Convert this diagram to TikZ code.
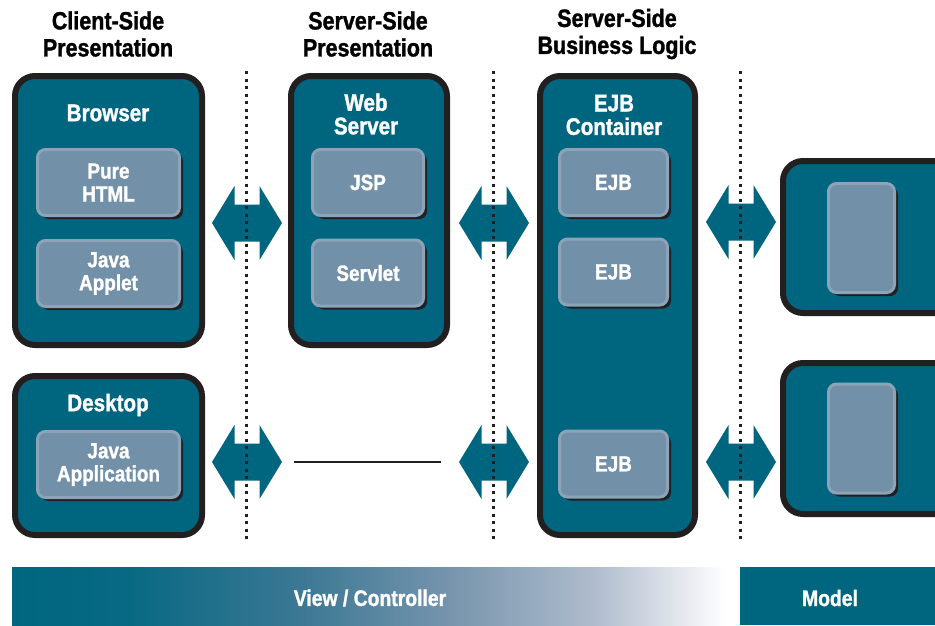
\documentclass[tikz,border=0pt]{standalone}
\usepackage{fontspec}
\setmainfont{Liberation Sans}[FakeStretch=0.86, BoldFeatures={FakeBold=1.3}]
\usetikzlibrary{shadows}
\definecolor{tealc}{RGB}{0,102,128}
\definecolor{innerc}{RGB}{114,144,168}
\definecolor{innerb}{RGB}{140,163,184}
\definecolor{darkc}{RGB}{35,31,32}
\definecolor{gA}{RGB}{8,105,131}
\definecolor{gB}{RGB}{60,120,148}
\definecolor{gC}{RGB}{118,148,172}
\definecolor{gD}{RGB}{175,188,205}
\definecolor{gE}{RGB}{228,232,238}
\pgfdeclarehorizontalshading{vcshade}{100bp}{color(0bp)=(tealc); color(25bp)=(tealc); color(33bp)=(gA); color(45bp)=(gB); color(55bp)=(gC); color(65bp)=(gD); color(71bp)=(gE); color(74bp)=(white); color(100bp)=(white)}
\tikzset{
  outerbox/.style={draw=darkc, line width=6pt, fill=tealc, rounded corners=20pt, inner sep=0pt},
  innerbox/.style={draw=innerb, line width=3pt, fill=innerc, rounded corners=8pt, inner sep=0pt,
     drop shadow={shadow xshift=3.5pt, shadow yshift=-3.5pt, opacity=1, fill=darkc}},
  head/.style={font=\bfseries\fontsize{25}{27}\selectfont, text=black, align=center, inner sep=0pt},
  boxlabel/.style={font=\bfseries\fontsize{24}{23.5}\selectfont, text=white, align=center, inner sep=0pt},
  inlabel/.style={font=\bfseries\fontsize{22}{23}\selectfont, text=white, align=center, inner sep=0pt},
  barlabel/.style={font=\bfseries\fontsize{22.5}{24}\selectfont, text=white, inner sep=0pt},
  sep/.style={draw=darkc, line width=3pt, dash pattern=on 3pt off 4.5pt},
  dbl/.pic={\fill[tealc] (-35,0) -- (-12.5,-37) -- (-12.5,-18.5) -- (12.5,-18.5) -- (12.5,-37) -- (35,0)
      -- (12.5,37) -- (12.5,18.5) -- (-12.5,18.5) -- (-12.5,37) -- cycle;}
}
\begin{document}
\begin{tikzpicture}[x=1pt,y=-1pt]
\useasboundingbox (0,0) rectangle (935,625);
\clip (0,0) rectangle (935,625);
% headers
\node[head] (h1) at (108,34) {Client-Side\\Presentation};
\node[head] (h2) at (368,34) {Server-Side\\Presentation};
\node[head] (h3) at (617,34) {Server-Side\\Business Logic};
% outer boxes
\node[outerbox, minimum width=187pt, minimum height=269pt] (browser) at (108.5,210.5) {};
\node[outerbox, minimum width=187pt, minimum height=159pt] (desktop) at (108.5,455.5) {};
\node[outerbox, minimum width=156pt, minimum height=269pt] (web) at (369,210.5) {};
\node[outerbox, minimum width=155pt, minimum height=459pt] (ejbc) at (617.5,305.5) {};
\node[outerbox, minimum width=207pt, minimum height=152pt] (m1) at (886.5,237) {};
\node[outerbox, minimum width=207pt, minimum height=151pt] (m2) at (886.5,438.5) {};
% box labels
\node[boxlabel] (lbrowser) at (108,113) {Browser};
\node[boxlabel] (ldesktop) at (108,405) {Desktop};
\node[boxlabel] (lweb) at (366,114) {Web\\Server};
\node[boxlabel] (lejbc) at (614,115) {EJB\\Container};
% inner boxes
\node[innerbox, minimum width=142pt, minimum height=66pt, inlabel] (html) at (108.5,182.5) {Pure\\HTML};
\node[innerbox, minimum width=142pt, minimum height=66pt, inlabel] (applet) at (108.5,273.5) {Java\\Applet};
\node[innerbox, minimum width=142pt, minimum height=66pt, inlabel] (app) at (108.5,464.5) {Java\\Application};
\node[innerbox, minimum width=111pt, minimum height=66pt, inlabel] (jsp) at (368,182.5) {JSP};
\node[innerbox, minimum width=111pt, minimum height=66pt, inlabel] (servlet) at (368,273) {Servlet};
\node[innerbox, minimum width=108pt, minimum height=66pt, inlabel] (ejb1) at (613.5,182.5) {EJB};
\node[innerbox, minimum width=108pt, minimum height=66pt, inlabel] (ejb2) at (613.5,272) {EJB};
\node[innerbox, minimum width=108pt, minimum height=66pt, inlabel] (ejb3) at (613.5,464) {EJB};
\node[innerbox, minimum width=66pt, minimum height=109pt] (d1) at (861.5,238) {};
\node[innerbox, minimum width=66pt, minimum height=109pt] (d2) at (861.5,438.5) {};
% double arrows
\coordinate (a1) at (247,223);
\coordinate (a2) at (494,223);
\coordinate (a3) at (741,222);
\coordinate (a4) at (247,462);
\coordinate (a5) at (494,462);
\coordinate (a6) at (741,462);
\foreach \a in {a1,a2,a3,a4,a5,a6} {\pic at (\a) {dbl};}
% line
\coordinate (l1) at (294,462);
\coordinate (l2) at (441,462);
\draw[darkc, line width=1.5pt] (l1) -- (l2);
% separators
\coordinate (s1t) at (246,71); \coordinate (s1b) at (246,540);
\coordinate (s2t) at (493,71); \coordinate (s2b) at (493,540);
\coordinate (s3t) at (740,71); \coordinate (s3b) at (740,540);
\draw[sep] (s1t) -- (s1b);
\draw[sep] (s2t) -- (s2b);
\draw[sep] (s3t) -- (s3b);
% bottom bar
\path[shading=vcshade] (12,567) rectangle (740,625);
\fill[tealc] (740,567) rectangle (935,625);
\node[barlabel] (vc) at (370,598) {View / Controller};
\node[barlabel] (model) at (830,598) {Model};
\end{tikzpicture}
\end{document}
